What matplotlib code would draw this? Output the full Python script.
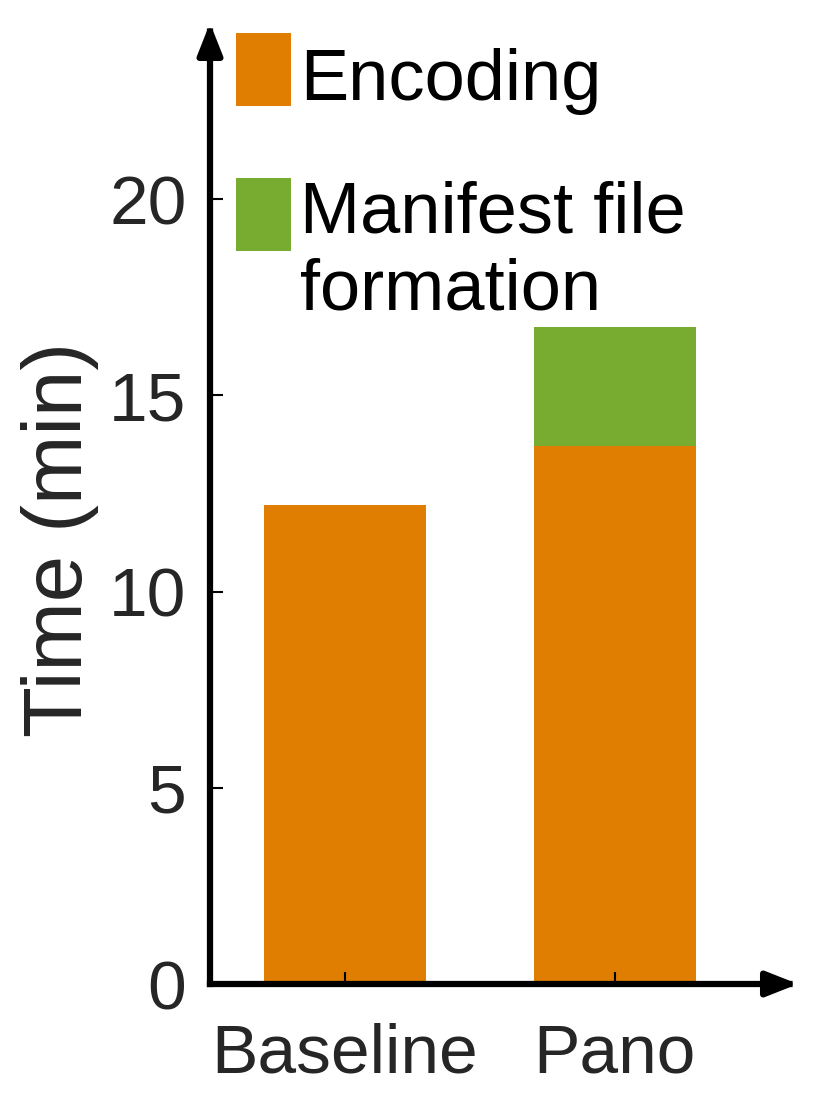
import numpy as np
import matplotlib.pyplot as plt
from matplotlib.patches import Rectangle

plt.rcParams['font.family'] = ['Liberation Sans', 'DejaVu Sans']

# data
categories = ['Baseline', 'Pano']
encoding = [12.2, 13.7]
manifest = [0.0, 3.05]
series_labels = ['Encoding', 'Manifest file\nformation']
colors = ['#DF7E00', '#77AC30']
y_ticks = [0, 5, 10, 15, 20]

W, H = 830, 1106
fig = plt.figure(figsize=(W / 100, H / 100), dpi=100)

# axes box in pixels: origin (210, 984), arrow tips at x=792 and y=27
ax = fig.add_axes([210 / W, (H - 984) / H, 582 / W, 957 / H])

x = np.arange(len(categories))
ax.bar(x, encoding, width=0.6, color=colors[0], linewidth=0)
ax.bar(x, manifest, width=0.6, bottom=encoding, color=colors[1], linewidth=0)

ax.set_xlim(-0.5, 1.656)
ax.set_ylim(0, 24.39)
ax.set_xticks(x)
ax.set_xticklabels(categories)
ax.set_yticks(y_ticks)

for s in ax.spines.values():
    s.set_visible(False)

ax.tick_params(direction='in', length=9, width=1.5, color='black',
               labelsize=50, labelcolor='#262626')
ax.tick_params(axis='x', pad=28)
ax.tick_params(axis='y', pad=17)

ax.set_ylabel('Time (min)', fontsize=60, color='#262626')
ax.yaxis.set_label_coords(-0.19, 0.464)

# axis lines with arrow heads
arrow = dict(arrowstyle='-|>,head_length=1.9,head_width=0.75', lw=4.5,
             color='black', shrinkA=0, shrinkB=0, mutation_scale=10,
             capstyle='projecting')
ax.annotate('', xy=(0, 1 + 4 / 957), xytext=(0, 0), xycoords='axes fraction',
            arrowprops=arrow, annotation_clip=False)
ax.annotate('', xy=(1 + 6 / 582, 0), xytext=(0, 0), xycoords='axes fraction',
            arrowprops=arrow, annotation_clip=False)

# legend drawn by hand, top-left inside the axes
patch_tops = [33, 178]
text_baselines = [100, 310]   # baseline of the last line of each label
for lab, col, pt, tb in zip(series_labels, colors, patch_tops, text_baselines):
    fig.patches.append(Rectangle((236 / W, 1 - (pt + 73) / H), 55 / W, 73 / H,
                                 transform=fig.transFigure, color=col, lw=0))
    fig.text(300 / W, 1 - tb / H, lab, fontsize=52, color='black',
             ha='left', va='baseline', linespacing=1.2)

fig.savefig('out.png', dpi=100)
